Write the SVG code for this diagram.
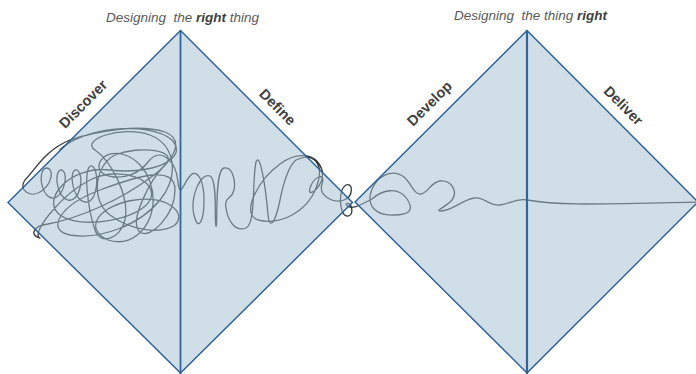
<svg xmlns="http://www.w3.org/2000/svg" width="696" height="374" viewBox="0 0 696 374">
<style>
.title{font-family:"Liberation Sans",Arial,sans-serif;font-size:13.5px;font-style:italic;fill:#595959}
.title .b{font-weight:bold;fill:#404040}
.lbl{font-family:"Liberation Sans",Arial,sans-serif;font-size:14.5px;font-weight:bold;fill:#404040;text-anchor:middle}
.dia{fill:#a1c0cf;fill-opacity:0.5;stroke:#2b5d95;stroke-width:1.4}
.mid{stroke:#2f64a0;stroke-width:1.8}
.scr{fill:none;stroke:#34383c;stroke-width:1.3;stroke-linecap:round;stroke-linejoin:round}
</style>
<rect width="696" height="374" fill="#ffffff"/>
<g id="scribble">
<path class="scr" d="M 60 150
C 80 128, 150 120, 172 140
C 190 160, 150 175, 110 170
C 70 165, 40 200, 60 215
C 80 230, 140 220, 150 200
C 160 180, 120 165, 90 180
C 60 195, 30 235, 40 238
C 30 236, 32 226, 48 224
C 80 218, 120 200, 150 178
C 175 160, 185 140, 165 132
C 140 124, 100 130, 70 140
C 45 150, 35 170, 25 180
C 18 190, 30 198, 40 192
C 52 185, 55 168, 46 168
C 38 170, 40 195, 52 198
C 62 200, 70 175, 62 170
C 54 168, 55 196, 68 200
C 80 203, 85 175, 77 170
C 68 168, 72 200, 85 202
C 98 204, 100 170, 92 166
C 82 164, 88 210, 95 230
C 100 245, 120 240, 125 220
C 130 195, 110 160, 95 150
C 80 140, 120 125, 150 135
C 175 145, 180 175, 160 200
C 140 225, 100 240, 70 235
C 45 230, 60 205, 100 190
C 140 175, 175 165, 175 190
C 175 215, 150 240, 140 232
C 128 222, 150 180, 165 165
C 180 150, 140 145, 115 155
C 95 165, 90 200, 110 215
C 130 230, 160 235, 175 225
C 188 212, 165 195, 135 200
C 100 205, 82 228, 108 240
C 138 250, 162 215, 150 182
C 140 152, 108 146, 100 162
C 92 178, 130 186, 148 162
C 160 146, 176 160, 178 182
C 180 200, 184 182, 190 176
C 196 168, 204 178, 204 200
C 204 222, 198 232, 194 215
C 190 198, 200 172, 210 176
C 218 180, 214 222, 216 226
C 218 230, 214 170, 224 168
C 232 166, 236 180, 234 190
C 232 200, 224 196, 226 208
C 228 222, 236 232, 246 228
C 256 224, 252 180, 256 162
C 260 150, 266 190, 268 215
C 270 232, 276 220, 280 200
C 284 180, 290 165, 296 160
C 312 152, 326 162, 316 188
C 308 210, 282 226, 258 220
C 240 214, 258 180, 280 164
C 296 152, 316 152, 322 170
C 326 186, 306 200, 310 188
C 314 176, 326 172, 322 184
C 318 196, 334 204, 344 200
C 354 196, 353 182, 346 185
C 338 190, 339 215, 347 216
C 355 217, 352 200, 346 204
C 350 212, 362 204, 372 199
C 382 190, 398 186, 407 199
C 415 211, 408 215, 394 215
C 375 216, 367 205, 371 192
C 376 176, 392 168, 404 177
C 412 184, 414 195, 421 194
C 428 193, 431 182, 440 181
C 452 180, 458 192, 452 200
C 446 207, 434 211, 441 211
C 452 211, 462 200, 474 198
C 484 196, 488 206, 500 205
C 510 204, 515 198, 527 200
C 560 206, 600 204, 700 202"/>
</g>
<g id="left-diamond">
<polygon class="dia" points="180.5,30.5 352.5,202.5 180.5,373 8,202.5"/>
<line class="mid" x1="180.5" y1="30.5" x2="180.5" y2="374"/>
</g>
<g id="right-diamond">
<polygon class="dia" points="527,30.5 698,202 527,373 355,202"/>
<line class="mid" x1="527" y1="30.5" x2="527" y2="374" style="stroke-width:2.2"/>
</g>
<g id="titles">
<text class="title" x="182.5" y="22" text-anchor="middle" xml:space="preserve">Designing  the <tspan class="b">right</tspan> thing</text>
<text class="title" x="530.5" y="20" text-anchor="middle" xml:space="preserve">Designing  the thing <tspan class="b">right</tspan></text>
</g>
<g id="labels">
<text class="lbl" transform="translate(83,104) rotate(-45)" y="5">Discover</text>
<text class="lbl" transform="translate(277.5,107) rotate(45)" y="5">Define</text>
<text class="lbl" transform="translate(429.5,103.5) rotate(-45)" y="5">Develop</text>
<text class="lbl" transform="translate(623.5,105.5) rotate(45)" y="5">Deliver</text>
</g>
</svg>
